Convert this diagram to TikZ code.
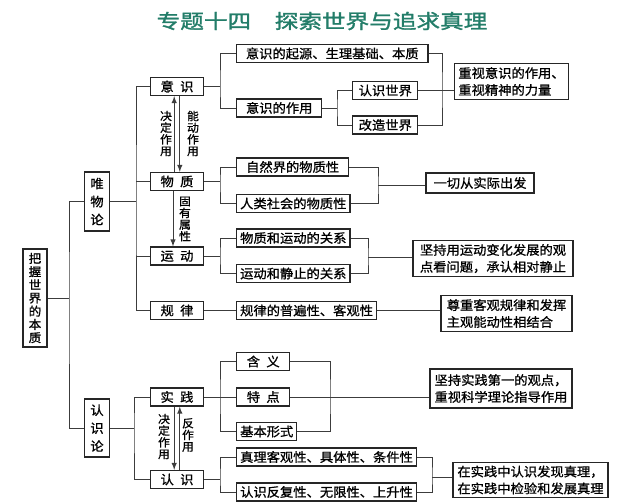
\documentclass[tikz,border=0pt]{standalone}
\usepackage{fontspec}
\usepackage{xcolor}
\usepackage{tikz}
\usetikzlibrary{arrows,positioning,calc}
\newfontfamily\cjk[FakeStretch=1.05,FakeBold=1]{Noto Sans CJK SC}
\newfontfamily\cjktitle[FakeStretch=1.2,FakeBold=1.5]{Noto Sans CJK SC}
\definecolor{MAPteal}{RGB}{35,125,105}
\definecolor{MAPline}{RGB}{60,60,60}
\tikzstyle{kbox}  = [rectangle, draw=black!85, line width=0.9pt,
                     inner xsep=2.5pt, inner ysep=1pt, minimum height=0.45cm,
                     align=center, font=\cjk\fontsize{9}{11}\selectfont]
\tikzstyle{Bkey}  = [kbox, minimum width=1.33cm]
\tikzstyle{Bleaf} = [kbox, anchor=west]
\tikzstyle{Bres}  = [kbox, align=left, inner ysep=2.5pt,
                     font=\cjk\fontsize{9}{12}\selectfont]
\tikzstyle{Bvert} = [kbox, minimum width=0.62cm,
                     font=\cjk\fontsize{9}{12.8}\selectfont]
\tikzstyle{tag}   = [align=center, inner sep=0pt,
                     font=\cjk\fontsize{8}{8.3}\selectfont]
\tikzstyle{link}  = [draw=MAPline, line width=0.7pt]
\tikzstyle{Ttitle} = [text=MAPteal, font=\cjktitle\fontsize{14}{16}\selectfont]

\begin{document}
\begin{tikzpicture}[x=0.025cm, y=-0.025cm, >=latex]
  \useasboundingbox (0,0) rectangle (640,502);

  \node[Ttitle] (title) at (322,21) {专题十四　探索世界与追求真理};

  % left column
  \node[Bvert, minimum width=0.6cm, minimum height=2.45cm,
        font=\cjk\fontsize{8.5}{9.4}\selectfont] (root) at (35,298) {把\\握\\世\\界\\的\\本\\质};
  \node[Bvert, minimum height=1.48cm] (wwl) at (97,201.5) {唯\\物\\论};
  \node[Bvert, minimum height=1.45cm] (rsl) at (97,428) {认\\识\\论};

  \node[Bkey] (ys) at (177,86.5)  {意\hspace{0.5em}识};
  \node[Bkey] (wz) at (177,181.5) {物\hspace{0.5em}质};
  \node[Bkey] (yd) at (177,256)   {运\hspace{0.5em}动};
  \node[Bkey] (gl) at (177,310.5) {规\hspace{0.5em}律};
  \node[Bkey] (sj) at (177,397)   {实\hspace{0.5em}践};
  \node[Bkey] (rs) at (177,479.5) {认\hspace{0.5em}识};

  % middle column
  \node[Bleaf, minimum width=4.78cm] (ys1) at (236,53.5) {意识的起源、生理基础、本质};
  \node[Bleaf, minimum width=2.13cm] (ys2) at (236,108) {意识的作用};
  \node[Bleaf, minimum width=1.63cm] (ys21) at (352,90.5) {认识世界};
  \node[Bleaf, minimum width=1.63cm] (ys22) at (352,125) {改造世界};
  \node[Bleaf, minimum width=2.8cm] (wz1) at (236,167) {自然界的物质性};
  \node[Bleaf, minimum width=2.8cm] (wz2) at (236,203.5) {人类社会的物质性};
  \node[Bleaf, minimum width=2.8cm] (yd1) at (236,238) {物质和运动的关系};
  \node[Bleaf, minimum width=2.8cm] (yd2) at (236,273.5) {运动和静止的关系};
  \node[Bleaf, minimum width=3.4cm] (gl1) at (236,310.5) {规律的普遍性、客观性};
  \node[Bleaf, minimum width=1.33cm] (sj1) at (236,361.5) {含\hspace{0.5em}义};
  \node[Bleaf, minimum width=1.33cm] (sj2) at (236,397) {特\hspace{0.5em}点};
  \node[Bleaf, minimum width=1.45cm] (sj3) at (236,431.5) {基本形式};
  \node[Bleaf, minimum width=4.48cm] (rs1) at (236,457) {真理客观性、具体性、条件性};
  \node[Bleaf, minimum width=4.48cm] (rs2) at (236,492) {认识反复性、无限性、上升性};

  % right column
  \node[Bres, minimum width=2.78cm, minimum height=0.83cm] (ysr) at (511.5,81.5) {重视意识的作用、\\重视精神的力量};
  \node[Bres, minimum width=2.7cm, minimum height=0.5cm] (wzr) at (480,183) {一切从实际出发};
  \node[Bres, minimum width=4.0cm, minimum height=0.88cm] (ydr) at (493,258.5) {坚持用运动变化发展的观\\点看问题，承认相对静止};
  \node[Bres, minimum width=3.28cm, minimum height=0.83cm] (glr) at (506.5,313.5) {尊重客观规律和发挥\\主观能动性相结合};
  \node[Bres, minimum width=3.55cm, minimum height=0.98cm] (sjr) at (501,388.5) {坚持实践第一的观点，\\重视科学理论指导作用};
  \node[Bres, minimum width=3.88cm, minimum height=0.85cm] (rsr) at (530.5,480) {在实践中认识发现真理，\\在实践中检验和发展真理};

  % arrow labels
  \node[tag] (jd1) at (166,133.5) {决\\定\\作\\用};
  \node[tag] (nd)  at (193,133.5) {能\\动\\作\\用};
  \node[tag] (gy)  at (185,219)   {固\\有\\属\\性};
  \node[tag] (jd2) at (164,436.5) {决\\定\\作\\用};
  \node[tag] (fz)  at (188,435)   {反\\作\\用};

  \draw[link,->] ([xshift=-0.07cm]wz.north) -- ([xshift=-0.07cm]ys.south);
  \draw[link,->] ([xshift=0.07cm]ys.south) -- ([xshift=0.07cm]wz.north);
  \draw[link,->] ([xshift=-0.1cm]wz.south) -- ([xshift=-0.1cm]yd.north);
  \draw[link,->] ([xshift=-0.07cm]sj.south) -- ([xshift=-0.07cm]rs.north);
  \draw[link,->] ([xshift=0.07cm]rs.north) -- ([xshift=0.07cm]sj.south);

  % trunks
  \coordinate (t0) at (69,301);
  \coordinate (t1) at (136,202);
  \coordinate (t2) at (134,428);
  \draw[link] (wwl.west) -| (t0) |- (rsl.west);
  \draw[link] (root.east) -- (root.east -| t0);
  \draw[link] (ys.west) -| (t1) |- (gl.west);
  \draw[link] (wwl.east) -- (wwl.east -| t1);
  \draw[link] (wz.west) -- (wz.west -| t1);
  \draw[link] (yd.west) -- (yd.west -| t1);
  \draw[link] (sj.west) -| (t2) |- (rs.west);
  \draw[link] (rsl.east) -- (rsl.east -| t2);

  % branches
  \coordinate (ysb)  at (220,86.5);
  \coordinate (ys2b) at (337,108);
  \coordinate (wzb)  at (220,181.5);
  \coordinate (ydb)  at (220,256);
  \coordinate (sjb)  at (220,397);
  \coordinate (rsb)  at (220,479.5);
  \draw[link] (ys.east) -- (ysb);
  \draw[link] (ys1.west) -| (ysb) |- (ys2.west);
  \draw[link] (ys2.east) -- (ys2b);
  \draw[link] (ys21.west) -| (ys2b) |- (ys22.west);
  \draw[link] (wz.east) -- (wzb);
  \draw[link] (wz1.west) -| (wzb) |- (wz2.west);
  \draw[link] (yd.east) -- (ydb);
  \draw[link] (yd1.west) -| (ydb) |- (yd2.west);
  \draw[link] (gl.east) -- (gl1.west);
  \draw[link] (sj.east) -- (sjb);
  \draw[link] (sj1.west) -| (sjb) |- (sj3.west);
  \draw[link] (sjb) -- (sj2.west);
  \draw[link] (rs.east) -- (rsb);
  \draw[link] (rs1.west) -| (rsb) |- (rs2.west);

  % brackets to the right
  \coordinate (ysk) at (442,90.5);
  \coordinate (wzk) at (378,185);
  \coordinate (ydk) at (368,257.5);
  \coordinate (sjk) at (330,397);
  \coordinate (rsk) at (432,477);
  \draw[link] (ys1.east) -| (ysk) |- (ys22.east);
  \draw[link] (ys21.east) -- (ys21.east -| ysr.west);
  \draw[link] (wz1.east) -| (wzk) |- (wz2.east);
  \draw[link] (wzk) -- (wzk -| wzr.west);
  \draw[link] (yd1.east) -| (ydk) |- (yd2.east);
  \draw[link] (ydk) -- (ydk -| ydr.west);
  \draw[link] (gl1.east) -- (gl1.east -| glr.west);
  \draw[link] (sj1.east) -| (sjk) |- (sj3.east);
  \draw[link] (sj2.east) -- (sj2.east -| sjr.west);
  \draw[link] (rs1.east) -| (rsk) |- (rs2.east);
  \draw[link] (rsk) -- (rsk -| rsr.west);

\end{tikzpicture}
\end{document}
